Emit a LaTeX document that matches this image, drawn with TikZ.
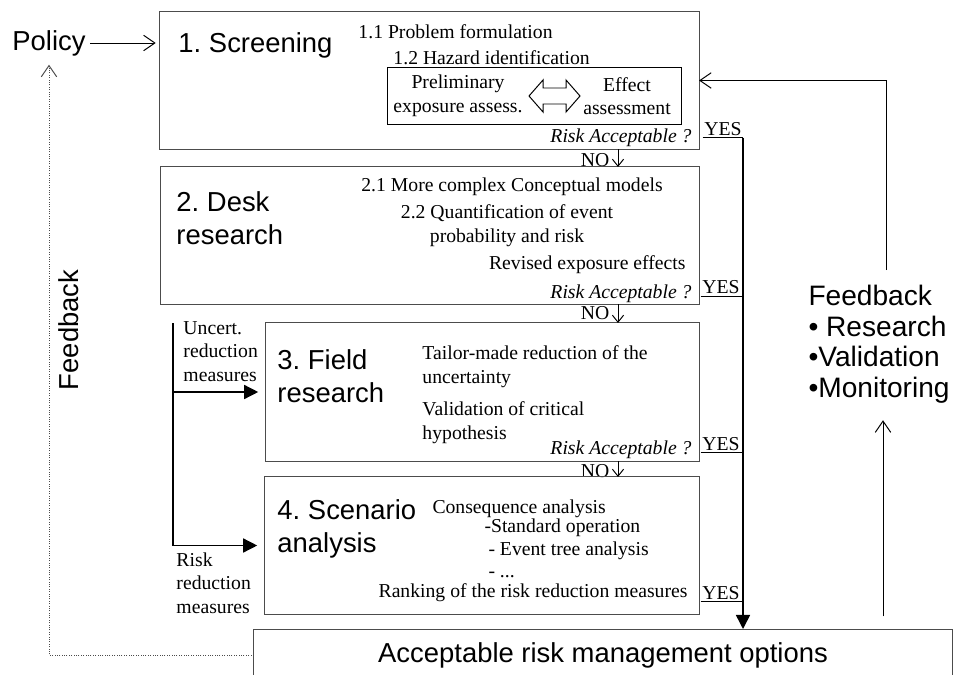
\documentclass[tikz,border=0pt]{standalone}
\usepackage{fontspec}
\setmainfont{Liberation Serif}
\setsansfont{Liberation Sans}
\usetikzlibrary{arrows.meta}
\frenchspacing

\newcommand{\notefont}{\fontsize{14}{16.8}\selectfont}
\newcommand{\titlefont}{\sffamily\fontsize{19.5}{23.4}\selectfont}

\tikzset{
  stage/.style={draw=black!70, rectangle, inner sep=0pt, outer sep=0pt},
  stagetitle/.style={font=\titlefont, inner sep=0pt, align=left},
  notetext/.style={font=\notefont, inner sep=0pt},
  barb/.style={-{Straight Barb[length=8pt,width=11pt]}},
  nobarb/.style={-{Straight Barb[length=5pt,width=8pt]}},
  filltip/.style={-{Triangle[length=10pt,width=10pt]}},
}

\begin{document}
\begin{tikzpicture}[x=0.025cm, y=-0.025cm, line width=0.7pt]
  \useasboundingbox (0,0) rectangle (958,675);
  \clip (0,0) rectangle (958,675);

  % Stage 1 - Screening
  \node[stage, minimum width=13.475cm, minimum height=3.425cm] (s1) at (429.5,80.5) {};
  \node[stagetitle, anchor=west] at (178,45) {1. Screening};
  \node[notetext, anchor=west] at (358,32) {1.1 Problem formulation};
  \node[notetext, anchor=west] at (393,58) {1.2 Hazard identification};
  \node[draw, rectangle, inner sep=0pt, minimum width=7.325cm, minimum height=1.4cm] (inner) at (534.5,96) {};
  \node[notetext, align=center] (prelim) at (458,96) {Preliminary\\exposure assess.};
  \node[notetext, align=center] (effect) at (627,96) {Effect\\assessment};
  % hollow double arrow between the two assessments
  \draw (529,96) -- (543,80) -- (543,88) -- (566,88) -- (566,80) -- (580,96)
        -- (566,112) -- (566,104) -- (543,104) -- (543,112) -- cycle;
  \node[notetext, font=\notefont\itshape, anchor=east] (risk1) at (692,138) {Risk Acceptable ?};
  \node[notetext, inner sep=1pt] (yes1) at (723,129) {YES};
  \node[notetext] (no1) at (595,160) {NO};

  % Stage 2 - Desk research
  \node[stage, minimum width=13.45cm, minimum height=3.425cm] (s2) at (430,235.5) {};
  \node[stagetitle, anchor=west] at (176,218.5) {2. Desk\\research};
  \node[notetext] at (512,187) {2.1 More complex Conceptual models};
  \node[notetext, align=center] at (507,225.5) {2.2 Quantification of event\\probability and risk};
  \node[notetext, anchor=east] at (686,265) {Revised exposure effects};
  \node[notetext, font=\notefont\itshape, anchor=east] (risk2) at (692,293.5) {Risk Acceptable ?};
  \node[notetext, inner sep=1pt] (yes2) at (721,287.5) {YES};
  \node[notetext] (no2) at (595,313) {NO};

  % Stage 3 - Field research
  \node[stage, minimum width=10.825cm, minimum height=3.45cm] (s3) at (482.5,392) {};
  \node[stagetitle, anchor=west] at (277,376) {3. Field\\research};
  \node[notetext, align=left, anchor=west] at (422,366.5) {Tailor-made reduction of the\\uncertainty};
  \node[notetext, align=left, anchor=west] at (422,422.5) {Validation of critical\\hypothesis};
  \node[notetext, font=\notefont\itshape, anchor=east] (risk3) at (692,450) {Risk Acceptable ?};
  \node[notetext, inner sep=1pt] (yes3) at (721,444) {YES};
  \node[notetext] (no3) at (595,471) {NO};

  % Stage 4 - Scenario analysis
  \node[stage, minimum width=10.85cm, minimum height=3.425cm] (s4) at (482,545.5) {};
  \node[stagetitle, anchor=west] at (277,528.5) {4. Scenario\\analysis};
  \node[notetext, anchor=west] at (432,509) {Consequence analysis};
  \node[notetext, anchor=west] at (484,528) {-Standard operation};
  \node[notetext, anchor=west] at (488,551) {- Event tree analysis};
  \node[notetext, anchor=west] at (488,575) {- ...};
  \node[notetext, anchor=east] at (688,593) {Ranking of the risk reduction measures};
  \node[notetext, inner sep=1pt] (yes4) at (721,593) {YES};

  % Outcome
  \node[stage, font=\titlefont, minimum width=17.45cm, minimum height=1.3cm] (acc) at (603,655) {Acceptable risk management options};

  % Side texts
  \node[stagetitle, inner sep=3pt] (policy) at (49,43) {Policy};
  \node[stagetitle, rotate=90] (fbleft) at (69,330) {Feedback};
  \node[font=\sffamily\fontsize{20}{21.7}\selectfont, align=left, anchor=west, inner sep=0pt] (fb) at (808,344)
    {Feedback\\• Research\\•Validation\\•Monitoring};
  \node[notetext, align=left, anchor=west] (uncert) at (183,351.5) {Uncert.\\reduction\\measures};
  \node[notetext, align=left, anchor=west] (riskred) at (176,583) {Risk\\reduction\\measures};

  % Helper columns
  \coordinate (trunk) at (743,0);
  \coordinate (nocol) at (618,0);
  \coordinate (branch) at (173,323);
  \coordinate (fbtop) at (886,270);
  \coordinate (fbup) at (883,0);

  % Connections
  \draw[barb, shorten >=3pt] (policy.east) -- (s1.west |- policy.east);
  \draw[nobarb] (s1.south -| nocol) -- (s2.north -| nocol);
  \draw[nobarb] (s2.south -| nocol) -- (s3.north -| nocol);
  \draw[nobarb] (s3.south -| nocol) -- (s4.north -| nocol);
  \draw (yes1.south west) -- (yes1.south -| trunk);
  \draw (yes2.south west) -- (yes2.south -| trunk);
  \draw (yes3.south west) -- (yes3.south -| trunk);
  \draw (yes4.south west) -- (yes4.south -| trunk);
  \draw[filltip, line width=1.1pt] (yes1.south -| trunk) -- (acc.north -| trunk);
  \draw[filltip, line width=1pt, shorten >=5.5pt] (branch) |- (s4.west);
  \draw[filltip, line width=1pt, shorten >=5.5pt] (branch |- s3.west) -- (s3.west);
  \draw[barb] (fbtop) |- (s1.east);
  \draw[barb, shorten <=9pt, shorten >=12pt] (acc.north -| fbup) -- (fb.south -| fbup);
  \draw[barb, densely dotted, black!70, shorten >=3pt] (acc.west) -| (policy.south);
\end{tikzpicture}
\end{document}
